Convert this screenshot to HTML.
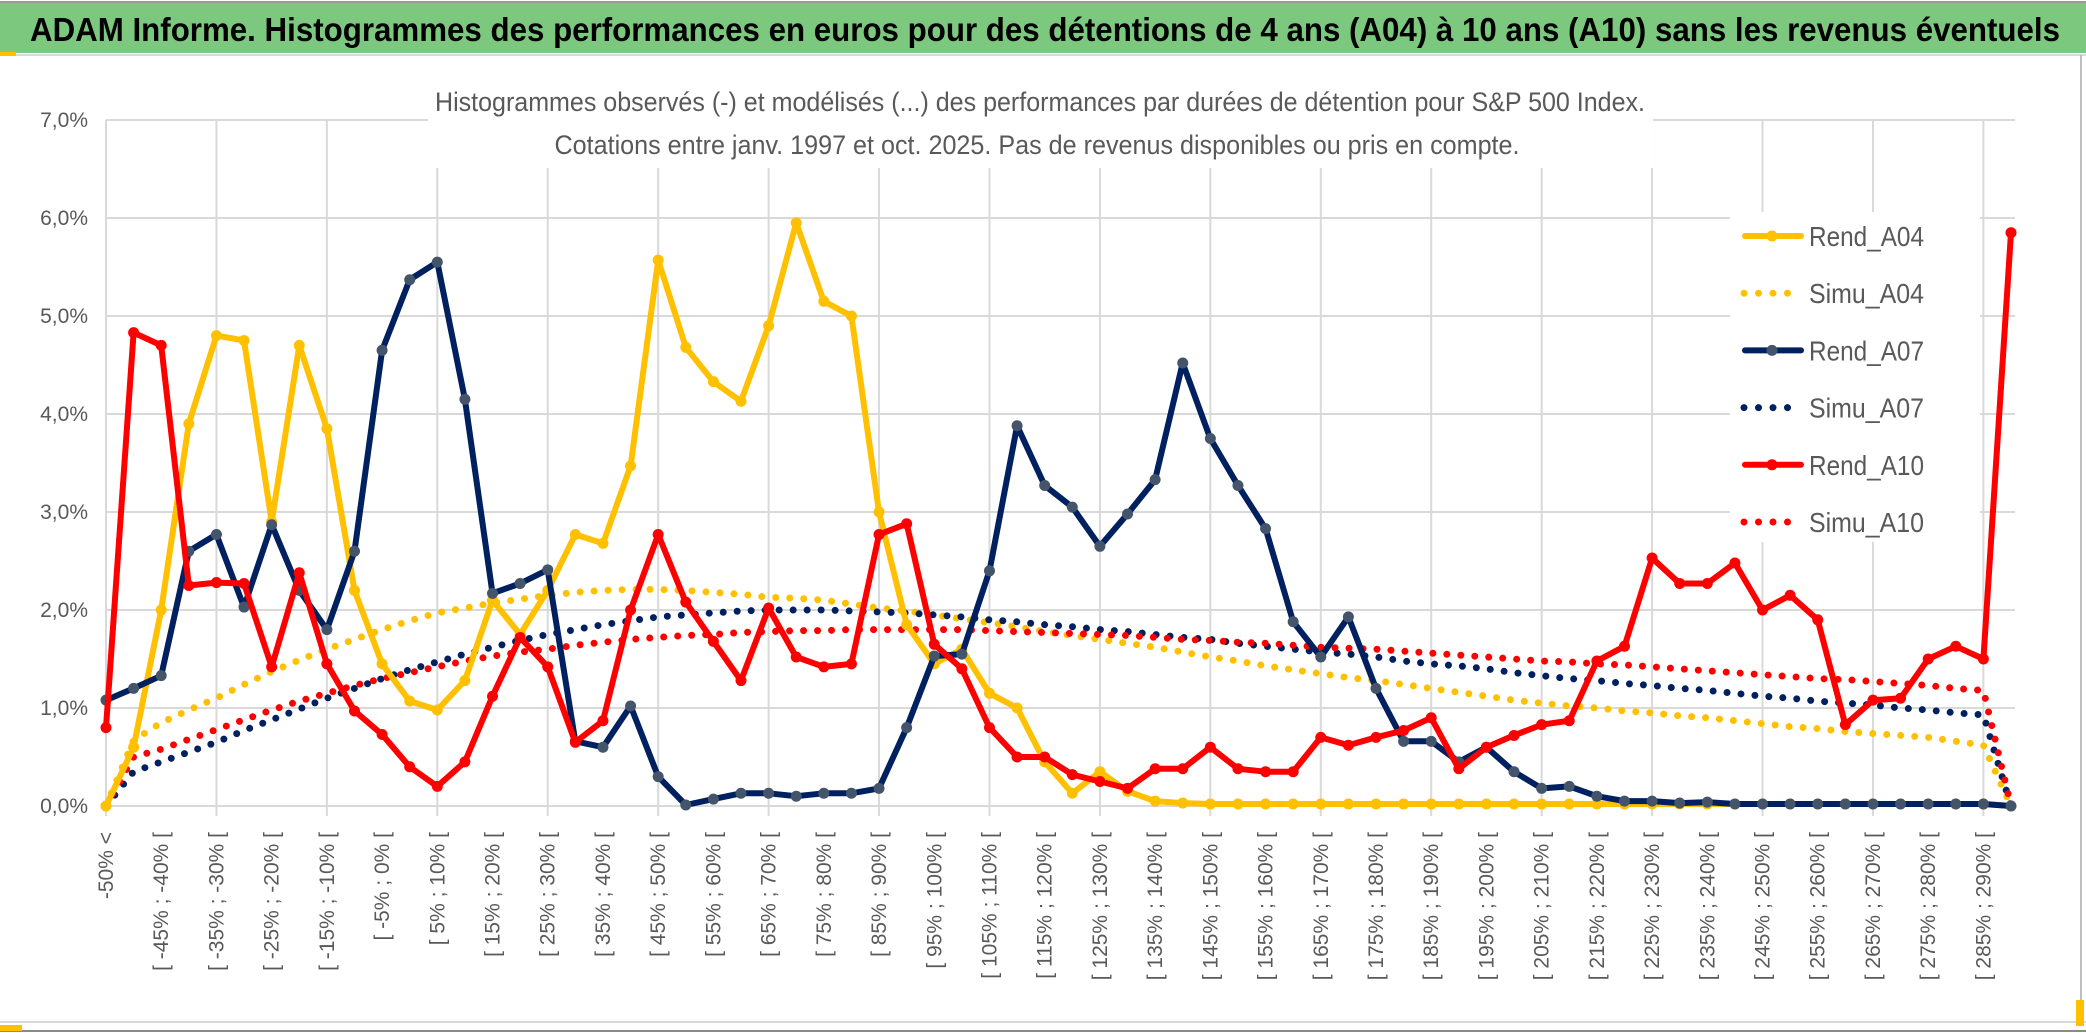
<!DOCTYPE html>
<html><head><meta charset="utf-8"><style>
html,body{margin:0;padding:0;background:#fff;}
svg{display:block;}
</style></head><body>
<svg id="chart" width="2086" height="1033" xmlns="http://www.w3.org/2000/svg" font-family="'Liberation Sans Narrow','Liberation Sans',sans-serif">
<rect x="0" y="0" width="2086" height="1033" fill="#fff"/>
<line x1="0" y1="2" x2="2086" y2="2" stroke="#9a9a9a" stroke-width="2"/>
<rect x="0" y="3" width="2086" height="50" fill="#7dc87f"/>
<text x="30" y="41" font-size="33" font-weight="bold" fill="#000" textLength="2030" lengthAdjust="spacingAndGlyphs">ADAM Informe. Histogrammes des performances en euros pour des détentions de 4 ans (A04) à 10 ans (A10) sans les revenus éventuels</text>
<rect x="0" y="52" width="16" height="4" fill="#ffc000"/>
<line x1="16" y1="55" x2="2086" y2="55" stroke="#d9d9d9" stroke-width="2"/>
<line x1="2081" y1="55" x2="2081" y2="1022" stroke="#bfbfbf" stroke-width="2"/>
<line x1="0" y1="1022" x2="2086" y2="1022" stroke="#d9d9d9" stroke-width="2"/>
<line x1="0" y1="1031" x2="2086" y2="1031" stroke="#8a8a8a" stroke-width="2"/>
<rect x="0" y="1025" width="22" height="6" fill="#ffc000"/>
<rect x="2076" y="1000" width="8" height="26" fill="#ffc000"/>
<g id="grid"></g>
<g id="axes"></g>
<rect x="428" y="82" width="1225" height="86" fill="#fff"/>
<text x="1040" y="111" text-anchor="middle" font-size="27" fill="#595959" textLength="1210" lengthAdjust="spacingAndGlyphs">Histogrammes observés (-) et modélisés (...) des performances par durées de détention pour S&amp;P 500 Index.</text>
<text x="1037" y="154" text-anchor="middle" font-size="27" fill="#595959" textLength="965" lengthAdjust="spacingAndGlyphs">Cotations entre janv. 1997 et oct. 2025. Pas de revenus disponibles ou pris en compte.</text>
<g id="series"></g>
<rect x="1730" y="212" width="250" height="330" fill="#fff"/>
<g id="legend"></g>
</svg>
<script>
const categories = ["-50% <"];
for (let k = 1; k < 70; k++) categories.push("[ " + (-55 + 5 * k) + "% ; " + (-50 + 5 * k) + "% [");
const yTicks = [0, 1, 2, 3, 4, 5, 6, 7];
const yTickLabels = ["0,0%", "1,0%", "2,0%", "3,0%", "4,0%", "5,0%", "6,0%", "7,0%"];
const rendA04 = [0,0.6,2.0,3.9,4.8,4.75,2.9,4.7,3.85,2.2,1.45,1.07,0.98,1.28,2.1,1.75,2.2,2.77,2.68,3.47,5.57,4.68,4.33,4.13,4.9,5.95,5.15,5.0,3.0,1.85,1.45,1.6,1.15,1.0,0.45,0.13,0.35,0.15,0.05,0.03,0.02,0.02,0.02,0.02,0.02,0.02,0.02,0.02,0.02,0.02,0.02,0.02,0.02,0.02,0.02,0.02,0.02,0.02,0.02,0.02,0.02,0.02,0.02,0.02,0.02,0.02,0.02,0.02,0.02,0];
const rendA07 = [1.08,1.2,1.33,2.6,2.77,2.03,2.87,2.2,1.8,2.6,4.65,5.37,5.55,4.15,2.17,2.27,2.41,0.66,0.6,1.02,0.3,0.01,0.07,0.13,0.13,0.1,0.13,0.13,0.18,0.8,1.53,1.55,2.4,3.88,3.27,3.05,2.65,2.98,3.33,4.52,3.75,3.27,2.83,1.88,1.52,1.93,1.2,0.66,0.66,0.45,0.6,0.35,0.18,0.2,0.1,0.05,0.05,0.03,0.04,0.02,0.02,0.02,0.02,0.02,0.02,0.02,0.02,0.02,0.02,0];
const rendA10 = [0.8,4.83,4.7,2.25,2.28,2.27,1.42,2.38,1.45,0.97,0.73,0.4,0.2,0.45,1.12,1.72,1.42,0.65,0.87,2.0,2.77,2.08,1.68,1.28,2.02,1.52,1.42,1.45,2.77,2.88,1.65,1.4,0.8,0.5,0.5,0.32,0.25,0.18,0.38,0.38,0.6,0.38,0.35,0.35,0.7,0.62,0.7,0.77,0.9,0.38,0.6,0.72,0.83,0.87,1.48,1.63,2.53,2.27,2.27,2.48,2.0,2.15,1.9,0.83,1.08,1.1,1.5,1.63,1.5,5.85];
const simuA04 = [0,0.67,0.85,0.98,1.1,1.24,1.37,1.49,1.6,1.7,1.8,1.89,1.97,2.02,2.07,2.11,2.15,2.18,2.2,2.21,2.21,2.2,2.18,2.16,2.13,2.12,2.1,2.06,2.02,1.99,1.95,1.91,1.87,1.83,1.78,1.74,1.7,1.66,1.62,1.57,1.52,1.48,1.43,1.39,1.35,1.31,1.28,1.24,1.2,1.16,1.12,1.08,1.05,1.02,1.0,0.97,0.95,0.92,0.9,0.87,0.84,0.81,0.79,0.76,0.74,0.72,0.7,0.66,0.62,0];
const simuA07 = [0,0.35,0.45,0.55,0.65,0.77,0.88,0.99,1.1,1.2,1.3,1.39,1.47,1.55,1.62,1.69,1.75,1.8,1.85,1.89,1.93,1.95,1.97,1.99,2.0,2.0,2.0,1.99,1.98,1.97,1.95,1.93,1.9,1.88,1.85,1.83,1.8,1.78,1.75,1.72,1.7,1.66,1.63,1.6,1.57,1.55,1.52,1.48,1.45,1.43,1.4,1.36,1.33,1.3,1.28,1.25,1.23,1.2,1.18,1.15,1.12,1.1,1.07,1.05,1.03,1.0,0.98,0.95,0.93,0];
const simuA10 = [0,0.5,0.58,0.68,0.78,0.88,0.98,1.07,1.15,1.23,1.3,1.36,1.42,1.48,1.53,1.57,1.6,1.64,1.67,1.7,1.72,1.74,1.75,1.77,1.78,1.79,1.79,1.8,1.8,1.8,1.8,1.8,1.79,1.78,1.77,1.76,1.75,1.74,1.72,1.7,1.69,1.67,1.66,1.64,1.62,1.61,1.6,1.58,1.56,1.54,1.52,1.5,1.48,1.47,1.45,1.44,1.42,1.4,1.38,1.36,1.34,1.32,1.3,1.29,1.27,1.25,1.23,1.2,1.18,0];
const seriesNames = ["Rend_A04", "Simu_A04", "Rend_A07", "Simu_A07", "Rend_A10", "Simu_A10"];

const NS = "http://www.w3.org/2000/svg";
const X0 = 106, X1 = 2011, Y0 = 806, YTOP = 120, YMAX = 7;
function xPos(i) { return X0 + (X1 - X0) * i / (categories.length - 1); }
function yPos(v) { return Y0 - (Y0 - YTOP) * v / YMAX; }
function mk(tag, attrs, parent) {
  const el = document.createElementNS(NS, tag);
  for (const k in attrs) el.setAttribute(k, attrs[k]);
  parent.appendChild(el);
  return el;
}
const grid = document.getElementById("grid");
const axes = document.getElementById("axes");
const series = document.getElementById("series");
const legend = document.getElementById("legend");

yTicks.forEach((t, i) => {
  if (t > 0) {
    const g = mk("line", {x1: X0, x2: X1 + 4, y1: yPos(t), y2: yPos(t), stroke: "#d9d9d9", "stroke-width": 2}, grid);
    
    
  }
  const lb = mk("text", {x: 88, y: yPos(t) + 7, "text-anchor": "end", "font-size": 21, fill: "#595959", "font-family": "'Liberation Sans Narrow','Liberation Sans',sans-serif"}, axes);
  lb.textContent = yTickLabels[i];
  
  
});
for (let i = 0; i < categories.length; i += 4) {
  const g = mk("line", {x1: xPos(i), x2: xPos(i), y1: YTOP, y2: Y0 + 10, stroke: "#d9d9d9", "stroke-width": 2}, grid);
  
  
}
const ax = mk("line", {x1: X0, x2: X1 + 4, y1: Y0, y2: Y0, stroke: "#d9d9d9", "stroke-width": 2}, axes);


for (let i = 0; i < categories.length; i += 2) {
  const x = xPos(i) + 7, y = 832;
  const t = mk("text", {x: x, y: y, transform: "rotate(-90 " + x + " " + y + ")", "text-anchor": "end", "font-size": 21, fill: "#595959", "font-family": "'Liberation Sans',sans-serif"}, axes);
  t.textContent = categories[i];
  
  
}

function pathD(vals) { return vals.map((v, i) => (i ? "L" : "M") + xPos(i).toFixed(1) + " " + yPos(v).toFixed(1)).join(" "); }
function dotted(vals, color, name) {
  const p = mk("path", {d: pathD(vals), fill: "none", stroke: color, "stroke-width": 7, "stroke-linecap": "round", "stroke-dasharray": "0 14"}, series);
  
  
}
function solid(vals, color, mcolor, name) {
  const p = mk("path", {d: pathD(vals), fill: "none", stroke: color, "stroke-width": 6, "stroke-linejoin": "round"}, series);
  
  
  vals.forEach((v, i) => {
    const c = mk("circle", {cx: xPos(i), cy: yPos(v), r: 5.5, fill: mcolor}, series);
    
    
  });
}
dotted(simuA04, "#ffc000", "simu-a04-line");
dotted(simuA07, "#002060", "simu-a07-line");
dotted(simuA10, "#ff0000", "simu-a10-line");
solid(rendA04, "#ffc000", "#ffc000", "rend-a04-line");
solid(rendA07, "#002060", "#44546a", "rend-a07-line");
solid(rendA10, "#ff0000", "#ff0000", "rend-a10-line");

const legendColors = ["#ffc000", "#ffc000", "#002060", "#002060", "#ff0000", "#ff0000"];
const legendMarker = ["#ffc000", null, "#44546a", null, "#ff0000", null];
seriesNames.forEach((n, i) => {
  const y = 236 + i * 57.2;
  const g = mk("g", {}, legend);
  
  
  if (legendMarker[i]) {
    mk("line", {x1: 1745, x2: 1801, y1: y, y2: y, stroke: legendColors[i], "stroke-width": 6, "stroke-linecap": "round"}, g);
    mk("circle", {cx: 1772, cy: y, r: 5.5, fill: legendMarker[i]}, g);
  } else {
    mk("line", {x1: 1744, x2: 1800, y1: y, y2: y, stroke: legendColors[i], "stroke-width": 7, "stroke-linecap": "round", "stroke-dasharray": "0 14.5"}, g);
  }
  const t = mk("text", {x: 1809, y: y + 10, "font-size": 28, fill: "#595959", textLength: 115, lengthAdjust: "spacingAndGlyphs", "font-family": "'Liberation Sans Narrow','Liberation Sans',sans-serif"}, g);
  t.textContent = n;
});
</script>
</body></html>
